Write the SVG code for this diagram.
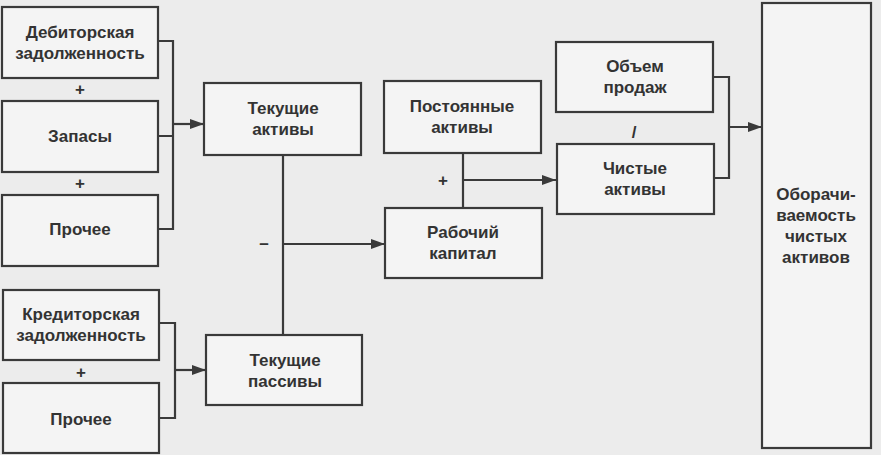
<svg xmlns="http://www.w3.org/2000/svg" width="881" height="455" viewBox="0 0 881 455">
<defs>
<style>
.b{fill:#f4f4f4;stroke:#3a3a3a;stroke-width:2.2}
.t{font-family:"Liberation Sans",Arial,sans-serif;font-size:17px;font-weight:bold;fill:#333;text-anchor:middle}
.l{fill:none;stroke:#3a3a3a;stroke-width:2.2}
</style>
<marker id="a" markerWidth="14" markerHeight="10" refX="14" refY="5" orient="auto" markerUnits="userSpaceOnUse"><path d="M0,0L14,5L0,10z" fill="#3a3a3a"/></marker>
</defs>
<rect width="881" height="455" fill="#ececec"/>
<g id="n1"><rect class="b" x="2" y="7" width="156" height="71"/><text class="t" x="80" y="38">Дебиторская</text><text class="t" x="80" y="59">задолженность</text></g>
<g id="n2"><rect class="b" x="2" y="101" width="156" height="71"/><text class="t" x="80" y="142">Запасы</text></g>
<g id="n3"><rect class="b" x="2" y="195" width="156" height="71"/><text class="t" x="80" y="235">Прочее</text></g>
<g id="n4"><rect class="b" x="3" y="290" width="156" height="70"/><text class="t" x="81" y="320">Кредиторская</text><text class="t" x="81" y="341">задолженность</text></g>
<g id="n5"><rect class="b" x="3" y="383" width="156" height="70"/><text class="t" x="81" y="425">Прочее</text></g>
<g id="n6"><rect class="b" x="204" y="83" width="157" height="72"/><text class="t" x="283" y="114">Текущие</text><text class="t" x="283" y="135">активы</text></g>
<g id="n7"><rect class="b" x="206" y="335" width="156" height="70"/><text class="t" x="285" y="366">Текущие</text><text class="t" x="285" y="387">пассивы</text></g>
<g id="n8"><rect class="b" x="384" y="81" width="157" height="72"/><text class="t" x="462" y="112">Постоянные</text><text class="t" x="462" y="133">активы</text></g>
<g id="n9"><rect class="b" x="385" y="208" width="157" height="70"/><text class="t" x="463" y="238">Рабочий</text><text class="t" x="463" y="259">капитал</text></g>
<g id="n10"><rect class="b" x="556" y="42" width="157" height="70"/><text class="t" x="635" y="72">Объем</text><text class="t" x="635" y="93">продаж</text></g>
<g id="n11"><rect class="b" x="557" y="144" width="157" height="70"/><text class="t" x="635" y="174">Чистые</text><text class="t" x="635" y="195">активы</text></g>
<g id="n12"><rect class="b" x="762" y="3" width="109" height="445"/><text class="t" x="816" y="200">Оборачи-</text><text class="t" x="816" y="221">ваемость</text><text class="t" x="816" y="242">чистых</text><text class="t" x="816" y="263">активов</text></g>
<g id="connectors">
<path class="l" d="M158,41H173V229H158M158,136H173"/>
<path class="l" d="M173,124H204" marker-end="url(#a)"/>
<path class="l" d="M159,323H175V418H159"/>
<path class="l" d="M175,370H206" marker-end="url(#a)"/>
<path class="l" d="M283,155V335"/>
<path class="l" d="M283,244H385" marker-end="url(#a)"/>
<path class="l" d="M463,153V208"/>
<path class="l" d="M463,180H556" marker-end="url(#a)"/>
<path class="l" d="M713,77H729V178H714"/>
<path class="l" d="M729,127H762" marker-end="url(#a)"/>
<text class="t" x="80" y="95">+</text>
<text class="t" x="80" y="189">+</text>
<text class="t" x="81" y="378">+</text>
<text class="t" x="264" y="249">–</text>
<text class="t" x="443" y="186">+</text>
<text class="t" x="634" y="138">/</text>
</g>
</svg>
